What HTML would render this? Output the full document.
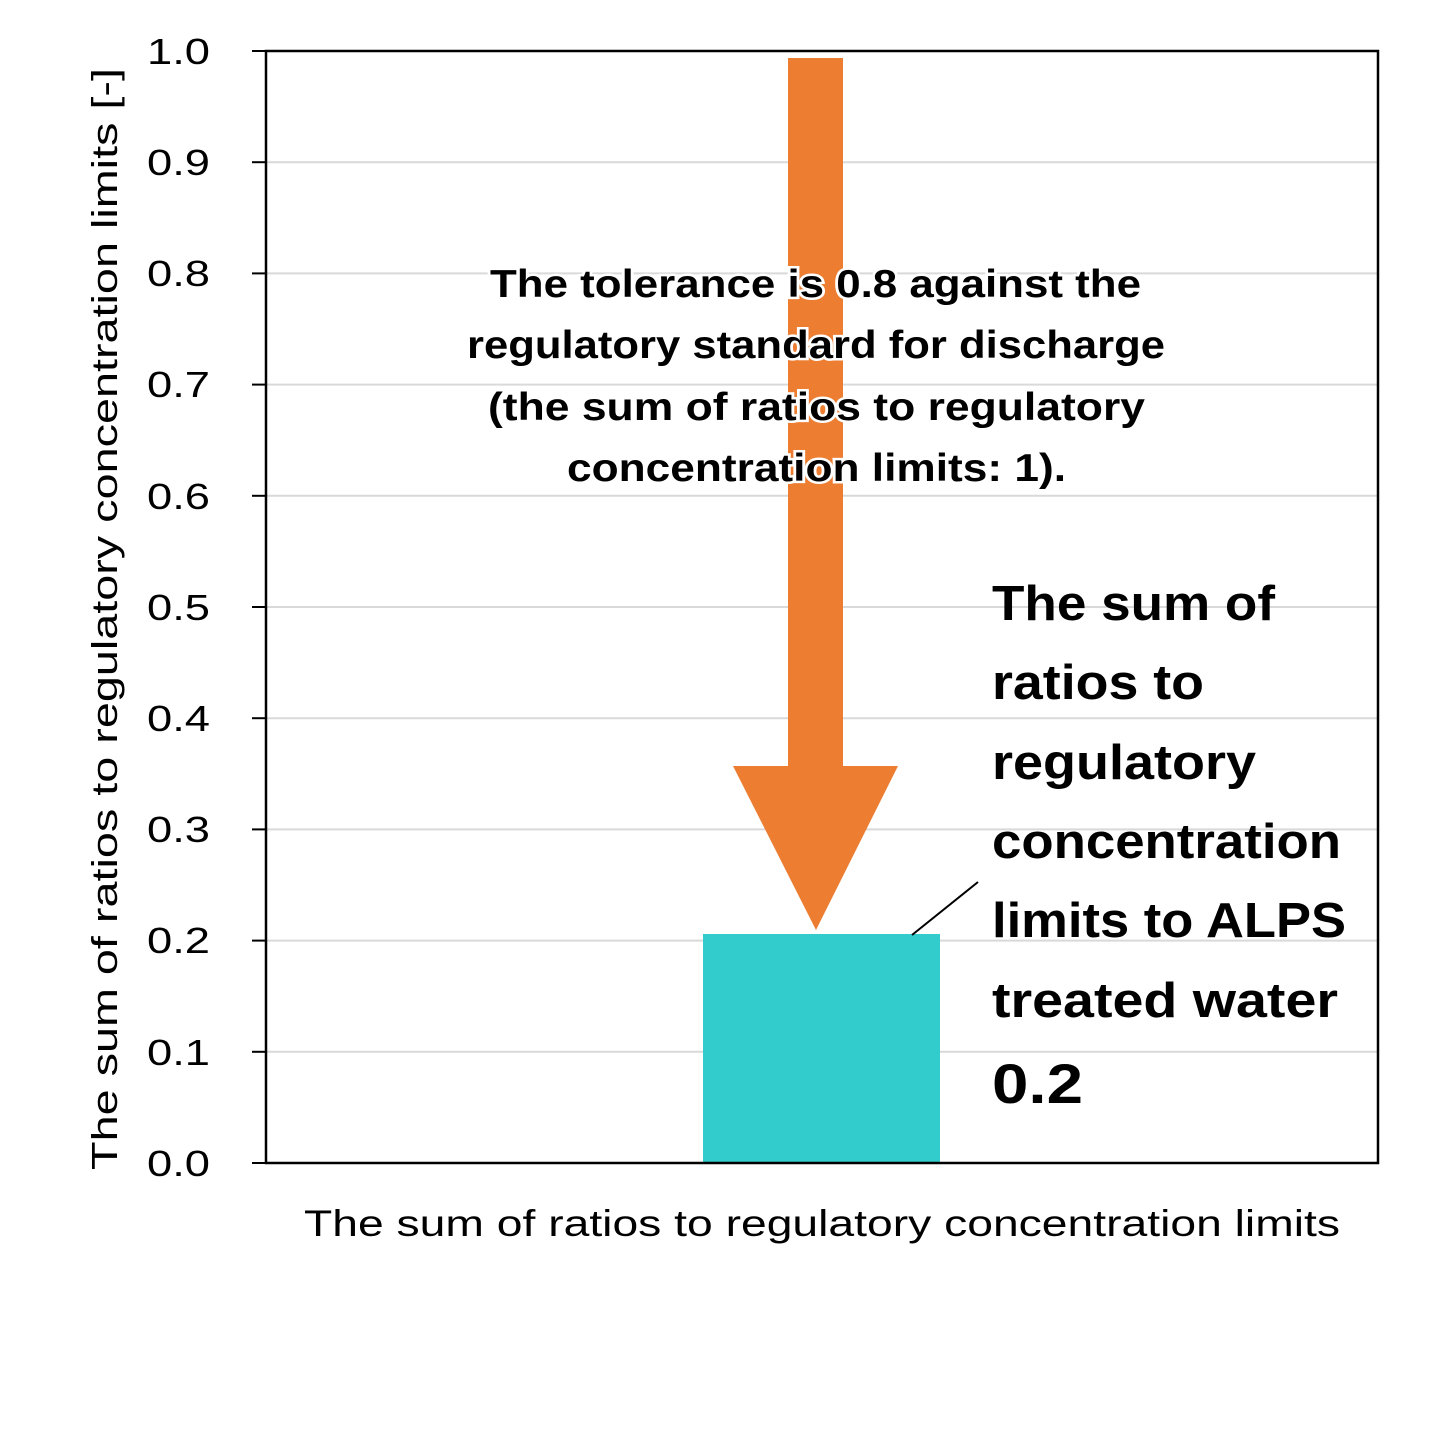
<!DOCTYPE html>
<html><head><meta charset="utf-8"><style>html,body{margin:0;padding:0;background:#fff}</style></head>
<body>
<svg width="1430" height="1443" xmlns="http://www.w3.org/2000/svg" font-family="Liberation Sans, DejaVu Sans, sans-serif">
<rect width="1430" height="1443" fill="#fff"/>
<g stroke="#d9d9d9" stroke-width="2">
<line x1="266" y1="162.2" x2="1378" y2="162.2"/>
<line x1="266" y1="273.4" x2="1378" y2="273.4"/>
<line x1="266" y1="384.6" x2="1378" y2="384.6"/>
<line x1="266" y1="495.8" x2="1378" y2="495.8"/>
<line x1="266" y1="607" x2="1378" y2="607"/>
<line x1="266" y1="718.2" x2="1378" y2="718.2"/>
<line x1="266" y1="829.4" x2="1378" y2="829.4"/>
<line x1="266" y1="940.6" x2="1378" y2="940.6"/>
<line x1="266" y1="1051.8" x2="1378" y2="1051.8"/>
</g>
<rect x="703" y="934" width="237" height="229" fill="#33cccc"/>
<polygon points="788,58 843,58 843,766 898,766 816,930 733,766 788,766" fill="#ed7d31"/>
<rect x="266" y="51" width="1112" height="1112" fill="none" stroke="#000" stroke-width="2.5"/>
<g stroke="#000" stroke-width="2">
<line x1="252" y1="51" x2="266" y2="51"/><line x1="252" y1="162.2" x2="266" y2="162.2"/><line x1="252" y1="273.4" x2="266" y2="273.4"/><line x1="252" y1="384.6" x2="266" y2="384.6"/><line x1="252" y1="495.8" x2="266" y2="495.8"/><line x1="252" y1="607" x2="266" y2="607"/><line x1="252" y1="718.2" x2="266" y2="718.2"/><line x1="252" y1="829.4" x2="266" y2="829.4"/><line x1="252" y1="940.6" x2="266" y2="940.6"/><line x1="252" y1="1051.8" x2="266" y2="1051.8"/><line x1="252" y1="1163" x2="266" y2="1163"/>
</g>
<g font-size="36" fill="#000">
<text x="147" y="64" textLength="63" lengthAdjust="spacingAndGlyphs">1.0</text><text x="147" y="175" textLength="63" lengthAdjust="spacingAndGlyphs">0.9</text><text x="147" y="286" textLength="63" lengthAdjust="spacingAndGlyphs">0.8</text><text x="147" y="397" textLength="63" lengthAdjust="spacingAndGlyphs">0.7</text><text x="147" y="509" textLength="63" lengthAdjust="spacingAndGlyphs">0.6</text><text x="147" y="620" textLength="63" lengthAdjust="spacingAndGlyphs">0.5</text><text x="147" y="731" textLength="63" lengthAdjust="spacingAndGlyphs">0.4</text><text x="147" y="842" textLength="63" lengthAdjust="spacingAndGlyphs">0.3</text><text x="147" y="953" textLength="63" lengthAdjust="spacingAndGlyphs">0.2</text><text x="147" y="1065" textLength="63" lengthAdjust="spacingAndGlyphs">0.1</text><text x="147" y="1176" textLength="63" lengthAdjust="spacingAndGlyphs">0.0</text>
</g>
<text transform="translate(117,1170) rotate(-90)" font-size="36" textLength="1102" lengthAdjust="spacingAndGlyphs">The sum of ratios to regulatory concentration limits [-]</text>
<text x="304" y="1236" font-size="37" textLength="1036" lengthAdjust="spacingAndGlyphs">The sum of ratios to regulatory concentration limits</text>
<g font-size="39" font-weight="bold" stroke="#fff" stroke-width="5" paint-order="stroke" fill="#000">
<text x="490" y="297" textLength="651" lengthAdjust="spacingAndGlyphs">The tolerance is 0.8 against the</text>
<text x="467" y="358" textLength="698" lengthAdjust="spacingAndGlyphs">regulatory standard for discharge</text>
<text x="488" y="420" textLength="657" lengthAdjust="spacingAndGlyphs">(the sum of ratios to regulatory</text>
<text x="567" y="481" textLength="499" lengthAdjust="spacingAndGlyphs">concentration limits: 1).</text>
</g>
<line x1="912" y1="935" x2="978" y2="882" stroke="#000" stroke-width="2"/>
<g font-size="49" font-weight="bold" fill="#000">
<text x="992" y="620" textLength="283" lengthAdjust="spacingAndGlyphs">The sum of</text>
<text x="992" y="699" textLength="212" lengthAdjust="spacingAndGlyphs">ratios to</text>
<text x="992" y="779" textLength="264" lengthAdjust="spacingAndGlyphs">regulatory</text>
<text x="992" y="858" textLength="349" lengthAdjust="spacingAndGlyphs">concentration</text>
<text x="992" y="937" textLength="354" lengthAdjust="spacingAndGlyphs">limits to ALPS</text>
<text x="992" y="1017" textLength="346" lengthAdjust="spacingAndGlyphs">treated water</text>
<text x="992" y="1103" font-size="56" textLength="91" lengthAdjust="spacingAndGlyphs">0.2</text>
</g>
</svg>
</body></html>
